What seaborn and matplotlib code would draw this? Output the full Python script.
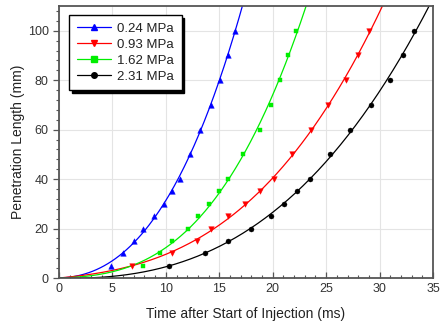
import matplotlib
matplotlib.use("Agg")
import matplotlib.pyplot as plt
from matplotlib.ticker import MultipleLocator
import numpy as np
import pandas as pd
import seaborn as sns

# penetration length (mm) at each measured point, same for all pressures
length = [5, 10, 15, 20, 25, 30, 35, 40, 50, 60, 70, 80, 90, 100]

# time after start of injection (ms)
t_024 = [4.85, 6.02, 7.02, 7.85, 8.85, 9.85, 10.6, 11.3, 12.25, 13.2, 14.2, 15.05, 15.8, 16.45]
t_093 = [6.86, 10.55, 12.88, 14.25, 15.85, 17.45, 18.8, 20.15, 21.8, 23.6, 25.15, 26.85, 28.0, 29.0]
t_162 = [7.85, 9.45, 10.6, 12.03, 13.03, 14.03, 15.0, 15.82, 17.2, 18.8, 19.8, 20.65, 21.4, 22.2]
t_231 = [10.25, 13.66, 15.8, 18.0, 19.8, 21.05, 22.25, 23.45, 25.4, 27.2, 29.2, 30.95, 32.2, 33.2]

labels = ["0.24 MPa", "0.93 MPa", "1.62 MPa", "2.31 MPa"]
times = [t_024, t_093, t_162, t_231]
colors = ["#0000ff", "#ff0000", "#00ee00", "#000000"]
markers = ["^", "v", "s", "o"]
sizes = [16, 16, 11, 13]

df = pd.concat(
    [pd.DataFrame({"time": t, "length": length, "pressure": lab}) for t, lab in zip(times, labels)]
)

sns.set_style("ticks")
plt.rcParams["font.family"] = ["Liberation Sans", "DejaVu Sans"]

fig = plt.figure(figsize=(4.48, 3.27), dpi=100)
ax = fig.add_axes([0.1317, 0.1498, 0.8348, 0.8318])

for lab, col, mk, ms in zip(labels, colors, markers, sizes):
    sub = df[df["pressure"] == lab]
    # cubic fit through the origin (L = a t + b t^2 + c t^3), like the fitted curves
    t = sub["time"].to_numpy()
    A = np.column_stack([t, t ** 2, t ** 3])
    coef = np.linalg.lstsq(A, sub["length"].to_numpy(), rcond=None)[0]
    tt = np.linspace(0, 35, 300)
    fit = pd.DataFrame({"time": tt, "length": np.column_stack([tt, tt ** 2, tt ** 3]) @ coef})
    sns.lineplot(data=fit, x="time", y="length", color=col, lw=0.9, ax=ax, legend=False)
    sns.scatterplot(data=sub, x="time", y="length", color=col, marker=mk, s=ms,
                    edgecolor=col, linewidth=0.3, ax=ax, legend=False, zorder=3)

handles = [
    plt.Line2D([], [], color=c, marker=m, markersize=4, lw=0.9, label=l)
    for l, c, m in zip(labels, colors, markers)
]
leg = ax.legend(handles=handles, loc="upper left", bbox_to_anchor=(0.01, 0.99),
                frameon=True, fancybox=False, shadow={"color": "black", "alpha": 1},
                fontsize=9.5, handlelength=2.6, handletextpad=0.5, labelspacing=0.28,
                borderpad=0.55, edgecolor="black")
leg.get_frame().set_linewidth(1.0)
for txt in leg.get_texts():
    txt.set_color("#222222")

ax.set_xlim(0, 35)
ax.set_ylim(0, 110)
ax.xaxis.set_major_locator(MultipleLocator(5))
ax.xaxis.set_minor_locator(MultipleLocator(1))
ax.yaxis.set_major_locator(MultipleLocator(20))
ax.yaxis.set_minor_locator(MultipleLocator(4))
ax.grid(True, which="major", color="#e4e4e4", lw=0.8)
ax.set_axisbelow(True)

ax.tick_params(axis="x", which="both", direction="in", top=False, colors="#555555",
               labelcolor="#333333", labelsize=9)
ax.tick_params(axis="y", which="both", direction="out", right=False, colors="#555555",
               labelcolor="#333333", labelsize=9)
ax.tick_params(which="major", length=4, width=0.9)
ax.tick_params(which="minor", length=2.5, width=0.8)
for s in ax.spines.values():
    s.set_color("#555555")
    s.set_linewidth(1.3)

ax.set_xlabel("Time after Start of Injection (ms)", fontsize=10, color="#222222", labelpad=9)
ax.set_ylabel("Penetration Length (mm)", fontsize=10, color="#222222", labelpad=2)

fig.savefig("out.png", dpi=100)
